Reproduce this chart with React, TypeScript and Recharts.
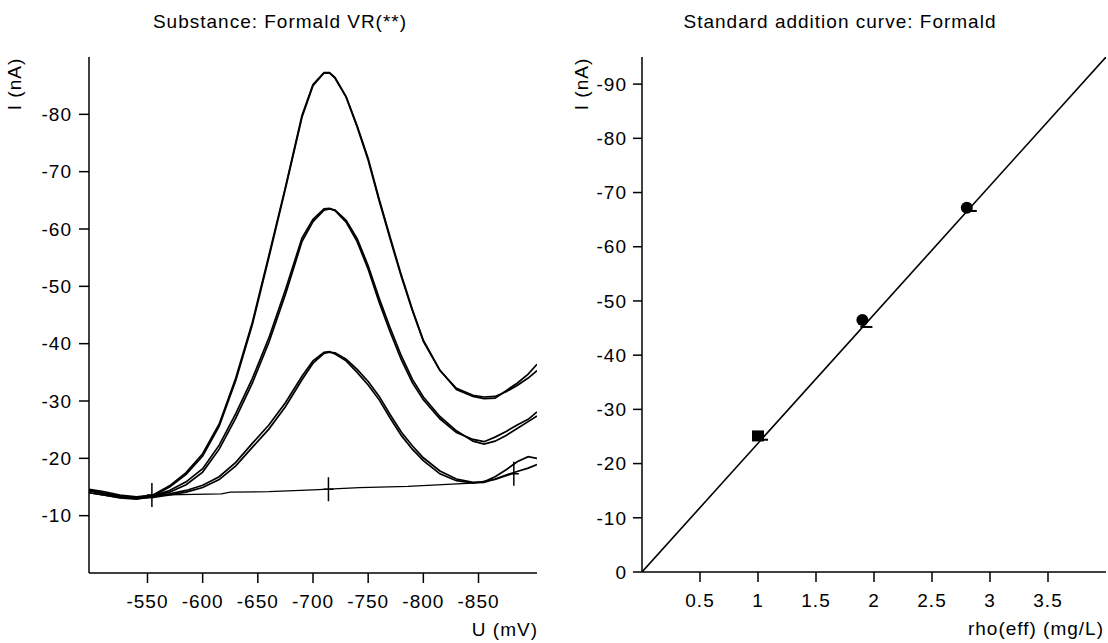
import { ComposedChart, Line, XAxis, YAxis } from "recharts";

// potential grid (mV) shared by the measured voltammograms
const potentials = [
  -497, -510, -525, -540, -555, -570, -585, -600, -615, -630, -645, -660,
  -675, -690, -700, -710, -715, -720, -730, -740, -750, -760, -770, -780,
  -790, -800, -815, -830, -845, -855, -865, -875, -885, -895, -903,
];

// current (nA) of each replicate
const sampleA = [
  -14.0, -13.6, -13.1, -12.9, -13.3, -13.8, -14.4, -15.3, -16.8, -19.3, -22.6,
  -25.8, -29.7, -34.3, -37.0, -38.5, -38.6, -38.2, -37.0, -35.0, -32.8, -30.2,
  -27.0, -24.0, -21.6, -19.6, -17.3, -16.1, -15.7, -15.8, -16.4, -17.1, -17.7,
  -18.3, -18.9,
];
const sampleB = [
  -14.4, -13.9, -13.3, -13.0, -13.2, -13.6, -14.1, -14.9, -16.3, -18.7, -21.9,
  -25.1, -29.0, -33.7, -36.6, -38.3, -38.5, -38.4, -37.3, -35.5, -33.4, -30.8,
  -27.6, -24.6, -22.2, -20.1, -17.8, -16.4, -15.8, -15.9, -16.8, -18.0, -19.4,
  -20.3, -20.0,
];
const add1A = [
  -14.4, -13.9, -13.4, -13.2, -13.5, -14.4, -15.9, -18.2, -22.3, -27.8, -33.9,
  -41.0, -49.4, -58.4, -61.7, -63.5, -63.6, -63.2, -61.2, -57.8, -53.0, -47.2,
  -42.0, -37.2, -33.2, -30.2, -26.9, -24.5, -23.3, -22.9, -23.7, -24.7, -25.8,
  -26.8, -28.1,
];
const add1B = [
  -14.0, -13.6, -13.2, -13.1, -13.4, -14.1, -15.4, -17.6, -21.6, -27.0, -33.1,
  -40.2, -48.6, -57.8, -61.3, -63.3, -63.5, -63.3, -61.5, -58.3, -53.6, -47.9,
  -42.7, -37.9, -33.8, -30.7, -27.3, -24.8, -23.0, -22.5, -23.0, -24.0, -25.2,
  -26.4, -27.4,
];
const add2A = [
  -14.6, -14.2, -13.6, -13.3, -13.6, -15.2, -17.5, -20.8, -26.0, -34.0, -43.7,
  -55.4, -67.3, -79.8, -85.2, -87.3, -87.3, -86.4, -83.1, -78.0, -72.3, -65.2,
  -58.5, -52.0, -46.0, -40.6, -35.4, -32.0, -30.8, -30.4, -30.5, -31.8, -33.1,
  -34.7, -36.4,
];
const add2B = [
  -14.3, -13.9, -13.4, -13.2, -13.5, -15.0, -17.2, -20.4, -25.6, -33.6, -43.3,
  -55.0, -67.0, -79.5, -85.0, -87.2, -87.2, -86.3, -83.0, -77.8, -72.0, -64.9,
  -58.2, -51.7, -45.8, -40.4, -35.3, -32.2, -31.0, -30.7, -30.8, -31.6, -32.7,
  -34.0, -35.3,
];

// baseline and its marker crosses
const baseU = [-555, -617, -625, -660, -700, -742, -786, -826, -845, -865, -882];
const baseI = [-13.6, -13.8, -14.1, -14.2, -14.5, -14.9, -15.1, -15.5, -15.7, -16.3, -17.4];
const crossU = [-554, -714, -882];
const crossI = [-13.6, -14.6, -17.3];

const uTicks = [-550, -600, -650, -700, -750, -800, -850];
const iTicksLeft = [-80, -70, -60, -50, -40, -30, -20, -10];

// standard addition
const fitRho = [0, 4];
const fitI = [0, -95];
const squareRho = [1.0];
const squareI = [-25.1];
const circleRho = [1.9, 2.8];
const circleI = [-46.5, -67.2];
const fitMarkRho = [1.0, 1.9, 2.8];
const fitMarkI = [-24.4, -45.2, -66.6];

const rhoTicks = [0.5, 1, 1.5, 2, 2.5, 3, 3.5];
const iTicksRight = [0, -10, -20, -30, -40, -50, -60, -70, -80, -90];

const curves = [sampleA, sampleB, add1A, add1B, add2A, add2B].map((vals) =>
  potentials.map((u, k) => ({ u, i: vals[k] }))
);
const baseline = baseU.map((u, k) => ({ u, i: baseI[k] }));
const crosses = crossU.map((u, k) => ({ u, i: crossI[k] }));

const fitLine = fitRho.map((rho, k) => ({ rho, i: fitI[k] }));
const squares = squareRho.map((rho, k) => ({ rho, i: squareI[k] }));
const circles = circleRho.map((rho, k) => ({ rho, i: circleI[k] }));
const fitMarks = fitMarkRho.map((rho, k) => ({ rho, i: fitMarkI[k] }));

const FONT = "'Liberation Sans', Arial, sans-serif";
const tickStyle = { fill: "#000", fontSize: 19, letterSpacing: 1 };
const axisStyle = { stroke: "#000", strokeWidth: 1.5 };

const Cross = (p: any) => (
  <path
    key={`c-${p.index}`}
    d={`M${p.cx},${p.cy - 12}V${p.cy + 12}M${p.cx - 5},${p.cy}H${p.cx + 5}`}
    stroke="#000"
    strokeWidth={1.5}
    fill="none"
  />
);
const Square = (p: any) => (
  <rect key={`s-${p.index}`} x={p.cx - 6} y={p.cy - 5.5} width={12} height={11} fill="#000" />
);
const Circle = (p: any) => (
  <circle key={`o-${p.index}`} cx={p.cx} cy={p.cy} r={6} fill="#000" />
);
const Dash = (p: any) => (
  <path
    key={`d-${p.index}`}
    d={`M${p.cx - 2},${p.cy}H${p.cx + 10}`}
    stroke="#000"
    strokeWidth={2}
  />
);

const VoltammogramChart = () => (
  <ComposedChart
    width={560}
    height={643}
    margin={{ top: 57, right: 23, bottom: 30, left: 29 }}
  >
    <XAxis
      type="number"
      dataKey="u"
      domain={[-903, -497]}
      reversed
      allowDataOverflow
      ticks={uTicks}
      interval={0}
      height={40}
      tickSize={10}
      tickMargin={12}
      tick={tickStyle}
      axisLine={axisStyle}
      tickLine={axisStyle}
    />
    <YAxis
      type="number"
      domain={[-90, 0]}
      reversed
      allowDataOverflow
      ticks={iTicksLeft}
      interval={0}
      width={60}
      tickSize={10}
      tickMargin={7}
      tick={tickStyle}
      axisLine={axisStyle}
      tickLine={axisStyle}
    />
    {curves.map((data, k) => (
      <Line
        key={k}
        data={data}
        dataKey="i"
        type="linear"
        stroke="#000"
        strokeWidth={1.7}
        dot={false}
        activeDot={false}
        isAnimationActive={false}
      />
    ))}
    <Line
      data={baseline}
      dataKey="i"
      type="linear"
      stroke="#000"
      strokeWidth={1.3}
      dot={false}
      activeDot={false}
      isAnimationActive={false}
    />
    <Line
      data={crosses}
      dataKey="i"
      stroke="none"
      dot={Cross}
      activeDot={false}
      isAnimationActive={false}
    />
  </ComposedChart>
);

const AdditionChart = () => (
  <ComposedChart
    width={548}
    height={643}
    margin={{ top: 57, right: 2, bottom: 31, left: 22 }}
  >
    <XAxis
      type="number"
      dataKey="rho"
      domain={[0, 4]}
      allowDataOverflow
      ticks={rhoTicks}
      interval={0}
      height={40}
      tickSize={10}
      tickMargin={12}
      tick={tickStyle}
      axisLine={axisStyle}
      tickLine={axisStyle}
    />
    <YAxis
      type="number"
      domain={[-95, 0]}
      reversed
      allowDataOverflow
      ticks={iTicksRight}
      interval={0}
      width={60}
      tickSize={9}
      tickMargin={6}
      tick={tickStyle}
      axisLine={axisStyle}
      tickLine={axisStyle}
    />
    <Line
      data={fitLine}
      dataKey="i"
      type="linear"
      stroke="#000"
      strokeWidth={1.6}
      dot={false}
      activeDot={false}
      isAnimationActive={false}
    />
    <Line data={squares} dataKey="i" stroke="none" dot={Square} activeDot={false} isAnimationActive={false} />
    <Line data={circles} dataKey="i" stroke="none" dot={Circle} activeDot={false} isAnimationActive={false} />
    <Line data={fitMarks} dataKey="i" stroke="none" dot={Dash} activeDot={false} isAnimationActive={false} />
  </ComposedChart>
);

export default function App() {
  const txt = { fill: "#000", fontSize: 19, letterSpacing: 1 } as const;
  return (
    <div
      style={{
        position: "absolute",
        left: 0,
        top: 0,
        width: 1108,
        height: 643,
        background: "#fff",
        fontFamily: FONT,
      }}
    >
      <div style={{ position: "absolute", left: 0, top: 0 }}>
        <VoltammogramChart />
      </div>
      <div style={{ position: "absolute", left: 560, top: 0 }}>
        <AdditionChart />
      </div>
      <svg
        width={1108}
        height={643}
        style={{ position: "absolute", left: 0, top: 0, pointerEvents: "none" }}
      >
        <text x={280} y={28} textAnchor="middle" {...txt}>
          Substance: Formald VR(**)
        </text>
        <text x={840} y={28} textAnchor="middle" {...txt}>
          Standard addition curve: Formald
        </text>
        <text x={21} y={84} textAnchor="middle" transform="rotate(-90 21 84)" {...txt}>
          I (nA)
        </text>
        <text x={588} y={84} textAnchor="middle" transform="rotate(-90 588 84)" {...txt}>
          I (nA)
        </text>
        <text x={538} y={636} textAnchor="end" {...txt}>
          U (mV)
        </text>
        <text x={1104} y={635} textAnchor="end" {...txt}>
          rho(eff) (mg/L)
        </text>
      </svg>
    </div>
  );
}
